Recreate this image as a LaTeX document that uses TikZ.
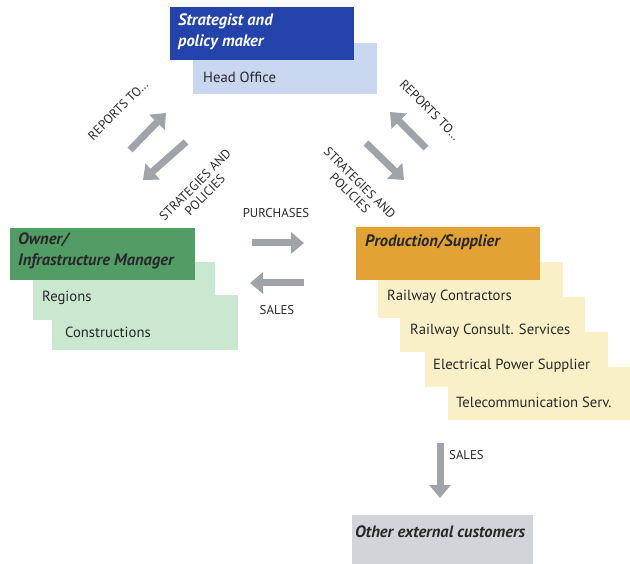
\documentclass[tikz,border=0pt]{standalone}
\usepackage{fontspec}
\setmainfont{PT Sans}
\usetikzlibrary{arrows.meta}
\definecolor{dblue}{RGB}{35,66,170}
\definecolor{lblue}{RGB}{200,214,240}
\definecolor{dgreen}{RGB}{82,156,102}
\definecolor{lgreen}{RGB}{202,231,207}
\definecolor{dorange}{RGB}{226,162,52}
\definecolor{lyellow}{RGB}{250,240,200}
\definecolor{lgray}{RGB}{210,212,216}
\definecolor{agray}{RGB}{160,163,168}
\definecolor{txt}{RGB}{40,40,40}
\tikzset{
  boxn/.style={rectangle, inner sep=0, anchor=north west},
  lbl/.style={anchor=west, inner sep=0, text=txt, font=\fontsize{14.7}{17}\selectfont},
  hlbl/.style={anchor=west, inner sep=0, align=left, font=\fontsize{16.5}{21}\selectfont\bfseries\itshape},
  small/.style={inner sep=0, text=txt, font=\fontsize{12.8}{14}\selectfont, align=center},
  fat/.style={draw=agray, line width=7, -{Triangle[width=21,length=13]}}
}
\begin{document}
\begin{tikzpicture}[x=1pt,y=-1pt]
\useasboundingbox (0,0) rectangle (630,564);
% top
\node[boxn, fill=lblue, minimum width=184, minimum height=51] (head) at (193,43) {};
\node[boxn, fill=dblue, minimum width=184, minimum height=53] (strat) at (170,7) {};
\node[hlbl, text=white] (stratt) at (178,32) {Strategist and\\policy maker};
\node[lbl] (headt) at (203,77) {Head Office};
% left
\node[boxn, fill=lgreen, minimum width=186, minimum height=55] (constr) at (52,295) {};
\node[boxn, fill=lgreen, minimum width=182, minimum height=58] (regions) at (33,262) {};
\node[boxn, fill=dgreen, minimum width=185, minimum height=52] (owner) at (10,228) {};
\node[hlbl, text=txt] (ownert) at (18,251) {Owner/\\Infrastructure Manager};
\node[lbl] (regionst) at (42,298) {Regions};
\node[lbl] (constrt) at (65,332) {Constructions};
% right
\node[boxn, fill=lyellow, minimum width=182, minimum height=53] (tel) at (448,367) {};
\node[boxn, fill=lyellow, minimum width=183, minimum height=55] (eps) at (425,332) {};
\node[boxn, fill=lyellow, minimum width=185, minimum height=55] (rcs) at (400,297) {};
\node[boxn, fill=lyellow, minimum width=185, minimum height=56] (rc) at (378,262) {};
\node[boxn, fill=dorange, minimum width=184, minimum height=53] (prod) at (356,227) {};
\node[hlbl, text=txt] (prodt) at (365,242) {Production/Supplier};
\node[lbl] (rct) at (387,297) {Railway Contractors};
\node[lbl] (rcst) at (410,331) {Railway Consult. Services};
\node[lbl] (epst) at (433,366) {Electrical Power Supplier};
\node[lbl] (telt) at (456,402) {Telecommunication Serv.};
% bottom
\node[boxn, fill=lgray, minimum width=181, minimum height=49] (other) at (352,515) {};
\node[hlbl, text=txt] (othert) at (355,532) {Other external customers};
% arrows
\coordinate (a1s) at (130,150); \coordinate (a1e) at (166,113);
\coordinate (a2s) at (186,142); \coordinate (a2e) at (143,180);
\coordinate (a3s) at (426,148); \coordinate (a3e) at (390,112);
\coordinate (a4s) at (366,143); \coordinate (a4e) at (404,180);
\coordinate (a5s) at (252,243); \coordinate (a5e) at (304,243);
\coordinate (a6s) at (304,283); \coordinate (a6e) at (250,283);
\coordinate (a7s) at (440,443); \coordinate (a7e) at (440,498);
\draw[fat] (a1s) -- (a1e);
\draw[fat] (a2s) -- (a2e);
\draw[fat] (a3s) -- (a3e);
\draw[fat] (a4s) -- (a4e);
\draw[fat] (a5s) -- (a5e);
\draw[fat] (a6s) -- (a6e);
\draw[fat] (a7s) -- (a7e);
% labels
\node[small, rotate=45] (rep1) at (118,110) {REPORTS TO\dots};
\node[small, rotate=45] (str1) at (200,190) {STRATEGIES AND\\POLICIES};
\node[small, rotate=-45] (rep2) at (430,110) {REPORTS TO\dots};
\node[small, rotate=-45] (str2) at (355,188) {STRATEGIES AND\\POLICIES};
\node[small] (purch) at (276,213) {PURCHASES};
\node[small] (sales1) at (277,310) {SALES};
\node[small, anchor=west] (sales2) at (449,455) {SALES};
\end{tikzpicture}
\end{document}
